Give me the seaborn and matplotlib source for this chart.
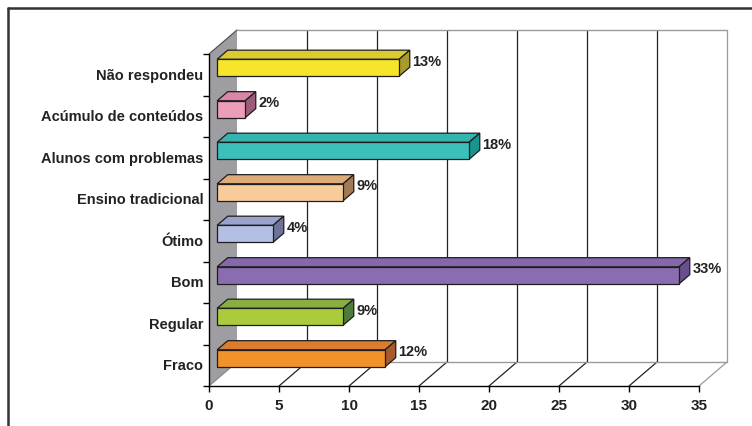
import matplotlib
matplotlib.use("Agg")
import matplotlib.pyplot as plt
from matplotlib.patches import Polygon
from matplotlib.lines import Line2D
import seaborn as sns
import pandas as pd

# --- data ---------------------------------------------------------------
categorias = ["Não respondeu", "Acúmulo de conteúdos", "Alunos com problemas",
              "Ensino tradicional", "Ótimo", "Bom", "Regular", "Fraco"]
valores = [13, 2, 18, 9, 4, 33, 9, 12]
ticks_x = [0, 5, 10, 15, 20, 25, 30, 35]

cores_frente = ["#F6E52B", "#EC9DB9", "#3BC0BC", "#F8CB9B",
                "#B3BFE3", "#8A6DB0", "#AACB3B", "#F1922B"]
cores_topo = ["#DCCB30", "#D886A9", "#35B3AF", "#DDAA7A",
              "#9AA3CC", "#8468AA", "#88AE3F", "#DC7D2D"]
cores_lado = ["#A89B2E", "#9C5B79", "#17958F", "#A27A56",
              "#6F7399", "#6A4F8E", "#4E7D3B", "#A65A2E"]

# --- layout / 3-D projection ----------------------------------------------
W, H = 752, 427
PX_UNIT = 14.0          # pixels per value unit
PX_CAT = 41.5           # pixels per category slot
left, right, top, bottom = 209, 745, 20, 387
DX = 28 / PX_UNIT       # depth offset in value units
DY = 24 / PX_CAT        # depth offset in category units
D0, D1 = 0.29, 0.67     # front / back depth of the bars
ALTURA = 17 / PX_CAT    # bar thickness


def proj(v, c, d):
    return (v + d * DX, c - d * DY)


sns.set_theme(style="white")
plt.rcParams["font.family"] = ["Liberation Sans", "DejaVu Sans"]

fig = plt.figure(figsize=(W / 100, H / 100), dpi=100)
fig.patch.set_facecolor("white")
ax = fig.add_axes([left / W, 1 - bottom / H, (right - left) / W, (bottom - top) / H])
ax.set_facecolor("none")

df = pd.DataFrame({"categoria": categorias, "valor": valores})
sns.barplot(data=df, x="valor", y="categoria", hue="categoria",
            order=categorias, hue_order=categorias, palette=cores_frente,
            width=ALTURA, orient="h", saturation=1, edgecolor="#1e1e1e",
            linewidth=0.9, legend=False, ax=ax)

xmax = (right - left) / PX_UNIT
ax.set_xlim(0, xmax)
ax.set_ylim(7.5, 7.5 - (bottom - top) / PX_CAT)

# side wall (grey) on the category axis
parede = Polygon([proj(0, -0.5, 0), proj(0, -0.5, 1), proj(0, 7.5, 1), proj(0, 7.5, 0)],
                 closed=True, facecolor="#9E9EA2", edgecolor="none", zorder=0.5)
ax.add_patch(parede)
ax.add_line(Line2D(*zip(proj(0, -0.5, 0), proj(0, -0.5, 1)), color="#555555", lw=0.9, zorder=1))
ax.add_line(Line2D(*zip(proj(0, 7.5, 0), proj(0, 7.5, 1)), color="#8a8a8a", lw=0.9, zorder=1))

# back wall grid and floor lines
for v in ticks_x[1:]:
    cor = "#9a9a9a" if v == ticks_x[-1] else "#222222"
    ax.add_line(Line2D(*zip(proj(v, 7.5, 1), proj(v, -0.5, 1)), color=cor, lw=0.9, zorder=1))
    ax.add_line(Line2D(*zip(proj(v, 7.5, 0), proj(v, 7.5, 1)), color=cor, lw=0.9, zorder=1))
ax.add_line(Line2D(*zip(proj(0, -0.5, 1), proj(ticks_x[-1], -0.5, 1)), color="#9a9a9a", lw=1.0, zorder=1))
ax.add_line(Line2D(*zip(proj(0, 7.5, 1), proj(ticks_x[-1], 7.5, 1)), color="#9a9a9a", lw=1.0, zorder=1))

# turn the flat bars into boxes
for p in list(ax.patches):
    if p is parede:
        continue
    h = p.get_height()
    cy = p.get_y() + h / 2
    i = int(round(cy))
    v = p.get_width()
    y0 = cy - h / 2
    p.set_x(p.get_x() + D0 * DX)
    p.set_y(p.get_y() - D0 * DY)
    p.set_zorder(4)
    topo = Polygon([proj(0, y0, D0), proj(v, y0, D0), proj(v, y0, D1), proj(0, y0, D1)],
                   closed=True, facecolor=cores_topo[i], edgecolor="#1e1e1e", lw=0.9, zorder=3)
    lado = Polygon([proj(v, y0, D0), proj(v, y0 + h, D0), proj(v, y0 + h, D1), proj(v, y0, D1)],
                   closed=True, facecolor=cores_lado[i], edgecolor="#1e1e1e", lw=0.9, zorder=3)
    ax.add_patch(topo)
    ax.add_patch(lado)
    ax.annotate(f"{valores[i]}%", xy=(proj(v, y0, D1)[0], proj(v, y0, D0)[1]),
                xytext=(2, -1), textcoords="offset points", ha="left", va="center",
                fontsize=10.5, fontweight="bold", color="#222222", zorder=5)

# axes, ticks and labels
ax.set_xlabel("")
ax.set_ylabel("")
for s in ("top", "right"):
    ax.spines[s].set_visible(False)
for s in ("left", "bottom"):
    ax.spines[s].set_color("black")
    ax.spines[s].set_linewidth(1.0)
    ax.spines[s].set_zorder(2)
ax.spines["bottom"].set_bounds(0, ticks_x[-1])
ax.spines["left"].set_bounds(-0.5, 7.5)

ax.set_xticks(ticks_x)
ax.set_xticklabels([str(t) for t in ticks_x])
ax.tick_params(axis="x", bottom=True, length=4, width=1, color="black",
               pad=5, labelsize=11, labelcolor="#222222")
ax.set_yticks([i - 0.5 for i in range(len(categorias) + 1)], minor=True)
ax.tick_params(axis="y", which="minor", left=True, length=4, width=1, color="black")
ax.tick_params(axis="y", which="major", left=False, length=0, pad=4,
               labelsize=10.5, labelcolor="#222222")
for lab in ax.get_yticklabels():
    lab.set_fontweight("bold")
    lab.set_va("center")
    lab.set_y(lab.get_position()[1])
for lab in ax.get_xticklabels():
    lab.set_fontweight("bold")

# outer frame
fig.add_artist(Line2D([8 / W, 1], [1 - 9 / H, 1 - 9 / H], transform=fig.transFigure,
                      color="#333333", lw=1.8))
fig.add_artist(Line2D([8 / W, 8 / W], [0, 1 - 9 / H], transform=fig.transFigure,
                      color="#333333", lw=1.8))

fig.savefig("out.png", dpi=100, facecolor="white")
